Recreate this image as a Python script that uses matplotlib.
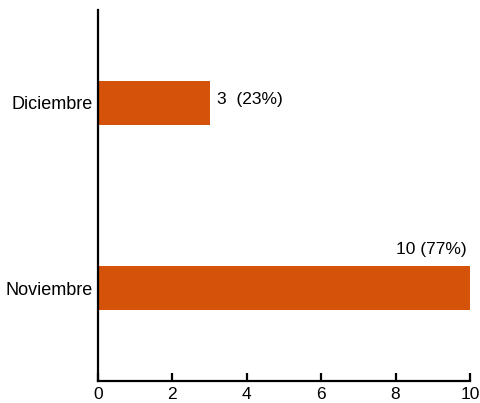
import matplotlib.pyplot as plt

plt.rcParams['font.family'] = ['Liberation Sans', 'DejaVu Sans']

months = ["Noviembre", "Diciembre"]
counts = [10, 3]
percents = [77, 23]
bar_color = "#D4520A"

fig = plt.figure(figsize=(4.8, 4.03), dpi=100)
ax = fig.add_axes([0.204, 0.0546, 0.775, 0.9204])

pos = list(range(len(months)))
ax.barh(pos, counts, height=0.237, color=bar_color)

ax.set_xlim(0, 10)
ax.set_ylim(-0.5, 1.5)
ax.set_xticks([0, 2, 4, 6, 8, 10])
ax.set_yticks(pos)
ax.set_yticklabels(months, fontsize=13)

for s in ["top", "right"]:
    ax.spines[s].set_visible(False)
for s in ["left", "bottom"]:
    ax.spines[s].set_linewidth(1.6)
ax.tick_params(axis="x", direction="in", length=6, width=1.6, labelsize=12.5, pad=4)
ax.tick_params(axis="y", length=0, labelsize=13, pad=4)

# value labels: beside short bars, above the full-width one
for p, c, pc in zip(pos, counts, percents):
    if c < 9:
        ax.text(c + 0.2, p + 0.02, f"{c}  ({pc}%)", va="center", ha="left", fontsize=12.5)
    else:
        ax.text(c - 0.08, p + 0.17, f"{c} ({pc}%)", va="bottom", ha="right", fontsize=12.5)

fig.savefig("out.png", dpi=100)
